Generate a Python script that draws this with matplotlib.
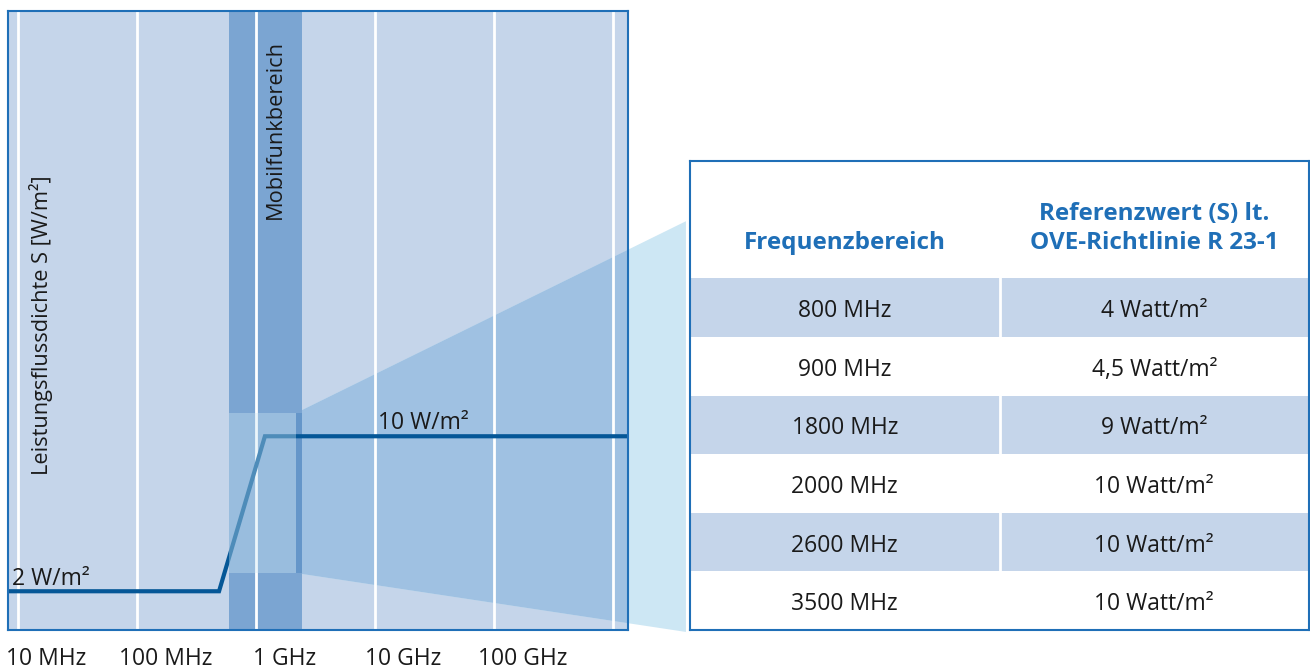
import matplotlib.pyplot as plt
from matplotlib.patches import Polygon, Rectangle

plt.rcParams['font.family'] = ['Open Sans', 'DejaVu Sans']

# Referenzwert-Kurve (W/m²) über der Frequenz (Hz)
limit_freq_hz = [8.2e6, 4.86e8, 1.18e9, 1.324e12]
limit_wm2 = [2, 2, 10, 10]

decades_hz = [1e7, 1e8, 1e9, 1e10, 1e11, 1e12]
tick_labels = ['10 MHz', '100 MHz', '1 GHz', '10 GHz', '100 GHz']

mobil_band_hz = [5.89e8, 2.42e9]

# Tabelle
freq_bereich = ['800 MHz', '900 MHz', '1800 MHz', '2000 MHz', '2600 MHz', '3500 MHz']
referenzwert = ['4', '4,5', '9', '10', '10', '10']

BLUE = '#1f6fb7'
BG = '#c5d5ea'
BAND = '#7ba5d2'
ZOOM = '#cde7f4'
LINE = '#055797'
TXT = '#1a1a1a'

W, H = 1310, 671
fig = plt.figure(figsize=(W / 100, H / 100), dpi=100)

# ---------------- Diagramm
ax = fig.add_axes([8 / W, 41 / H, 620 / W, 619 / H])
ax.set_facecolor(BG)
ax.set_xscale('log')
ax.set_xlim(8.2e6, 1.324e12)
ax.set_ylim(0, 31.95)
ax.set_xticks([])
ax.set_yticks([])
ax.minorticks_off()
for s in ax.spines.values():
    s.set_color(BLUE)
    s.set_linewidth(1.5)

# Lupen-Trapez zur Tabelle
trap = [(2.153e9, 11.2), (4.06e12, 21.1), (4.06e12, -0.1), (2.153e9, 2.94)]
ax.add_patch(Polygon(trap, closed=True, fc=ZOOM, ec='none', clip_on=False, zorder=0.5))
ax.add_patch(Polygon(trap, closed=True, fc='#9fc1e2', ec='none', zorder=0.6))

ax.axvspan(mobil_band_hz[0], mobil_band_hz[1], color=BAND, lw=0, zorder=0.8)
ax.add_patch(Rectangle((2.153e9, 2.94), mobil_band_hz[1] - 2.153e9, 11.2 - 2.94,
                       fc='#6596c9', ec='none', zorder=0.9))

for d in decades_hz:
    ax.axvline(d, color='white', lw=2, zorder=1)

ax.plot(limit_freq_hz, limit_wm2, color=LINE, lw=3, zorder=2,
        solid_capstyle='butt', solid_joinstyle='miter')

ax.add_patch(Rectangle((mobil_band_hz[0], 2.94), 2.153e9 - mobil_band_hz[0], 11.2 - 2.94,
                       fc=ZOOM, ec='none', alpha=0.37, zorder=3))

for d, lab in zip(decades_hz, tick_labels):
    ax.annotate(lab, xy=(d, 0), xycoords=('data', 'axes fraction'),
                xytext=(28, -29), textcoords='offset pixels',
                ha='center', va='center', fontsize=16.5, color=TXT,
                annotation_clip=False)

ax.text(0.053, 0.493, 'Leistungsflussdichte S [W/m²]', transform=ax.transAxes,
        rotation=90, ha='center', va='center', fontsize=15.7, color=TXT)
ax.text(1.435e9, 0.808, 'Mobilfunkbereich', transform=ax.get_xaxis_transform(),
        rotation=90, ha='center', va='center', fontsize=15.7, color=TXT, zorder=4)

ax.annotate('2 W/m²', xy=(limit_freq_hz[0], limit_wm2[0]), xytext=(4, 6),
            textcoords='offset pixels', ha='left', va='baseline',
            fontsize=16.5, color=TXT, zorder=4)
ax.annotate('10 W/m²', xy=(2.51e10, limit_wm2[-1]), xytext=(0, 7),
            textcoords='offset pixels', ha='center', va='baseline',
            fontsize=16.5, color=TXT, zorder=4)

# ---------------- Tabelle
tx = fig.add_axes([690 / W, 41 / H, 619 / W, 469 / H])
tx.set_xlim(0, 2)
tx.set_ylim(0, 8)
tx.set_xticks([])
tx.set_yticks([])
for s in tx.spines.values():
    s.set_color(BLUE)
    s.set_linewidth(1.5)

n = len(freq_bereich)
for i, (f, r) in enumerate(zip(freq_bereich, referenzwert)):
    y0 = n - 1 - i
    if i % 2 == 0:
        tx.add_patch(Rectangle((0, y0), 2, 1, fc=BG, ec='none'))
    tx.text(0.5, y0 + 0.44, f, ha='center', va='center', fontsize=16.5, color=TXT)
    tx.text(1.5, y0 + 0.44, f'{r} Watt/m²', ha='center', va='center',
            fontsize=16.5, color=TXT)
tx.plot([1, 1], [0, n], color='white', lw=2)

tx.text(0.5, 6.6, 'Frequenzbereich', ha='center', va='center',
        fontsize=17.5, fontweight='bold', color=BLUE)
tx.text(1.5, 6.85, 'Referenzwert (S) lt.\nOVE-Richtlinie R 23-1', ha='center',
        va='center', fontsize=17.5, fontweight='bold', color=BLUE, linespacing=1.25)

fig.savefig('out.png', dpi=100)
